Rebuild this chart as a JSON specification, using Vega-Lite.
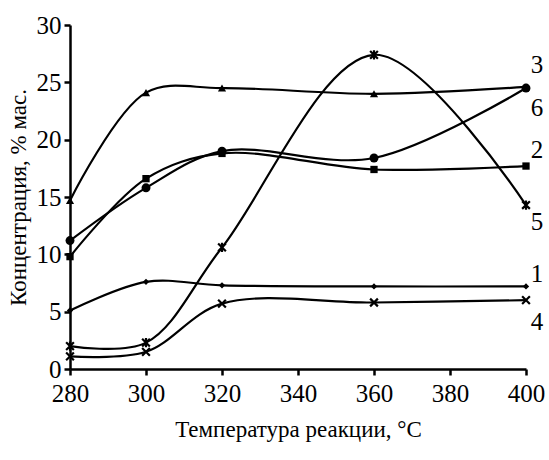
{
  "$schema": "https://vega.github.io/schema/vega-lite/v6.json",
  "width": 456,
  "height": 344,
  "autosize": {"type": "none"},
  "padding": {"left": 70, "top": 25, "right": 23, "bottom": 91},
  "background": "white",
  "config": {
    "view": {"stroke": null}
  },
  "resolve": {"scale": {"shape": "independent", "size": "independent"}, "axis": {"x": "independent", "y": "independent"}},
  "datasets": {
    "pts": [
      {"series": "1", "t": 280, "c": 5.1},
      {"series": "1", "t": 300, "c": 7.6},
      {"series": "1", "t": 320, "c": 7.3},
      {"series": "1", "t": 360, "c": 7.2},
      {"series": "1", "t": 400, "c": 7.2},
      {"series": "2", "t": 280, "c": 9.8},
      {"series": "2", "t": 300, "c": 16.6},
      {"series": "2", "t": 320, "c": 18.8},
      {"series": "2", "t": 360, "c": 17.4},
      {"series": "2", "t": 400, "c": 17.7},
      {"series": "3", "t": 280, "c": 14.7},
      {"series": "3", "t": 300, "c": 24.1},
      {"series": "3", "t": 320, "c": 24.5},
      {"series": "3", "t": 360, "c": 24.0},
      {"series": "3", "t": 400, "c": 24.6},
      {"series": "4", "t": 280, "c": 1.1},
      {"series": "4", "t": 300, "c": 1.5},
      {"series": "4", "t": 320, "c": 5.7},
      {"series": "4", "t": 360, "c": 5.8},
      {"series": "4", "t": 400, "c": 6.0},
      {"series": "5", "t": 280, "c": 2.0},
      {"series": "5", "t": 300, "c": 2.3},
      {"series": "5", "t": 320, "c": 10.6},
      {"series": "5", "t": 360, "c": 27.4},
      {"series": "5", "t": 400, "c": 14.3},
      {"series": "6", "t": 280, "c": 11.2},
      {"series": "6", "t": 300, "c": 15.8},
      {"series": "6", "t": 320, "c": 19.0},
      {"series": "6", "t": 360, "c": 18.4},
      {"series": "6", "t": 400, "c": 24.5}
    ],
    "labels": [
      {"series": "3", "t": 400, "c": 26.5},
      {"series": "6", "t": 400, "c": 22.8},
      {"series": "2", "t": 400, "c": 19.1},
      {"series": "5", "t": 400, "c": 12.8},
      {"series": "1", "t": 400, "c": 8.3},
      {"series": "4", "t": 400, "c": 4.1}
    ]
  },
  "layer": [
    {
      "data": {"name": "pts"},
      "mark": {"type": "line", "interpolate": "catmull-rom", "color": "black", "strokeWidth": 2.2},
      "encoding": {
        "x": {
          "field": "t", "type": "quantitative",
          "scale": {"domain": [280, 400], "nice": false},
          "axis": {"values": [280, 300, 320, 340, 360, 380, 400], "title": "Температура реакции, °C", "titlePadding": 12, "labelPadding": 6,
            "grid": false, "domainColor": "black", "domainWidth": 2.5, "tickColor": "black", "tickWidth": 2.5, "tickSize": 6,
            "labelFont": "Liberation Serif", "labelFontSize": 25, "labelColor": "black", "labelFlush": false, "labelOverlap": false,
            "titleFont": "Liberation Serif", "titleFontSize": 23, "titleFontWeight": "normal", "titleColor": "black"}
        },
        "y": {
          "field": "c", "type": "quantitative",
          "scale": {"domain": [0, 30], "nice": false},
          "axis": {"values": [0, 5, 10, 15, 20, 25, 30], "title": "Концентрация, % мас.", "titlePadding": 6, "labelPadding": 3,
            "grid": false, "domainColor": "black", "domainWidth": 2.5, "tickColor": "black", "tickWidth": 2.5, "tickSize": 6,
            "labelFont": "Liberation Serif", "labelFontSize": 25, "labelColor": "black", "labelFlush": false, "labelOverlap": false,
            "titleFont": "Liberation Serif", "titleFontSize": 23, "titleFontWeight": "normal", "titleColor": "black"}
        },
        "detail": {"field": "series"}
      }
    },
    {
      "data": {"name": "pts"},
      "transform": [{"filter": "datum.series != '4' && datum.series != '5'"}],
      "mark": {"type": "point", "filled": true, "color": "black", "opacity": 1},
      "encoding": {
        "x": {"field": "t", "type": "quantitative", "axis": null},
        "y": {"field": "c", "type": "quantitative", "axis": null},
        "shape": {
          "field": "series", "type": "nominal",
          "scale": {"domain": ["1", "2", "3", "6"], "range": ["diamond", "square", "triangle-up", "circle"]},
          "legend": null
        },
        "size": {
          "field": "series", "type": "nominal",
          "scale": {"domain": ["1", "2", "3", "6"], "range": [40, 80, 180, 85]},
          "legend": null
        }
      }
    },
    {
      "data": {"name": "pts"},
      "transform": [{"filter": "datum.series == '4' || datum.series == '5'"}],
      "mark": {"type": "point", "filled": false, "color": "black", "strokeWidth": 2.2, "opacity": 1, "size": 60},
      "encoding": {
        "x": {"field": "t", "type": "quantitative", "axis": null},
        "y": {"field": "c", "type": "quantitative", "axis": null},
        "shape": {
          "field": "series", "type": "nominal",
          "scale": {"domain": ["4", "5"], "range": ["M-1,-1L1,1M-1,1L1,-1", "M-1,-1L1,1M-1,1L1,-1M0,-1.2L0,1.2"]},
          "legend": null
        }
      }
    },
    {
      "data": {"name": "labels"},
      "mark": {"type": "text", "font": "Liberation Serif", "fontSize": 25, "color": "black", "dx": 11, "align": "center", "baseline": "middle"},
      "encoding": {
        "x": {"field": "t", "type": "quantitative", "axis": null},
        "y": {"field": "c", "type": "quantitative", "axis": null},
        "text": {"field": "series"}
      }
    }
  ]
}
